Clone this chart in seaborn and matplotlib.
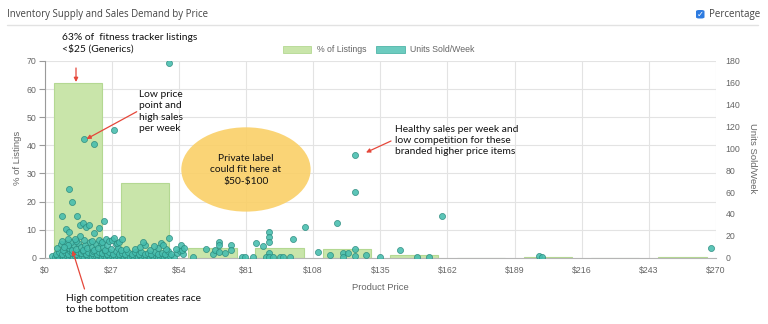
import matplotlib
matplotlib.use("Agg")
import matplotlib.pyplot as plt
from matplotlib.patches import Ellipse, FancyBboxPatch, Rectangle
import pandas as pd
import seaborn as sns

# ---------------- data ----------------
bin_centers = [13.5, 40.5, 67.5, 94.5, 121.5, 148.5, 175.5, 202.5, 229.5, 256.5]
pct_listings = [62.3, 26.5, 3.6, 3.3, 3.0, 1.0, 0.0, 0.4, 0.0, 0.2]

x_ticks = [0, 27, 54, 81, 108, 135, 162, 189, 216, 243, 270]
x_tick_labels = ["$0", "$27", "$54", "$81", "$108", "$135", "$162", "$189", "$216", "$243", "$270"]
left_ticks = [0, 10, 20, 30, 40, 50, 60, 70]
right_ticks = [0, 20, 40, 60, 80, 100, 120, 140, 160, 180]

# (price, units sold / week)
pts_high = [(50.2, 178.4), (27.9, 116.7), (15.9, 108.6), (20.0, 104.3),
            (124.8, 94.0), (125.0, 60.4), (160.0, 38.4), (268.0, 9.2),
            (199.0, 1.6), (200.0, 0.4)]
pts_generic_upper = [(10.0, 63.3), (11.2, 50.8), (6.9, 37.9), (13.2, 38.6), (8.8, 26.3),
                     (14.3, 30.1), (15.3, 31.5), (16.7, 28.4), (17.7, 30.2), (24.0, 33.6),
                     (22.0, 26.8), (20.1, 22.3), (9.9, 23.1), (14.1, 19.9), (9.3, 17.1),
                     (12.1, 16.9), (9.6, 11.6), (8.0, 10.1), (27.1, 15.9), (28.1, 18.3),
                     (31.0, 16.8), (39.7, 14.6), (46.7, 13.9), (47.8, 11.6), (50.2, 18.3),
                     (54.9, 11.6), (56.2, 9.1), (59.9, 0.2)]
pts_mid_price = [(65.1, 7.7), (67.9, 3.1), (68.7, 7.0), (70.0, 14.6), (70.0, 11.6),
                 (70.2, 5.2), (72.7, 4.0), (74.9, 11.6), (75.1, 7.0), (79.4, 0.9),
                 (80.6, 0.9), (83.7, 0.9), (85.0, 13.2), (88.0, 10.7), (90.1, 23.8),
                 (90.1, 19.4), (90.1, 14.6), (90.1, 4.0), (89.1, 0.4), (90.1, 0.4),
                 (91.8, 0.4), (94.7, 0.4), (96.0, 0.4), (98.7, 0.4), (99.8, 17.1),
                 (104.9, 28.4), (109.9, 4.9), (114.8, 2.5), (117.7, 32.0), (119.9, 4.0),
                 (119.9, 0.2), (122.2, 4.0), (125.0, 7.7), (125.0, 1.8), (129.3, 2.7),
                 (134.9, 0.6), (143.1, 6.8), (149.9, 0.6), (154.6, 0.6)]
pts_cluster_row1 = [(3.0, 1.2), (4.2, 0.5), (5.1, 1.8), (6.0, 0.8), (6.8, 2.2), (7.5, 1.0),
                    (8.3, 0.4), (9.0, 1.6), (9.8, 0.9), (10.6, 2.0), (11.3, 0.6), (12.1, 1.3),
                    (12.9, 0.8), (13.6, 1.9), (14.4, 0.5), (15.2, 1.4), (16.0, 1.0), (16.8, 2.1),
                    (17.5, 0.7), (18.3, 1.5), (19.1, 0.4), (19.9, 1.1), (20.7, 1.8), (21.5, 0.6),
                    (22.3, 1.3), (23.1, 0.9), (23.9, 2.0), (24.7, 0.5), (25.5, 1.2), (26.3, 0.8),
                    (27.1, 1.6), (27.9, 0.4), (28.7, 1.0), (29.5, 1.9), (30.3, 0.7), (31.1, 1.3),
                    (31.9, 0.5), (32.7, 1.7), (33.5, 1.0), (34.3, 0.6), (35.1, 1.4), (35.9, 0.9),
                    (36.7, 2.0), (37.5, 0.5), (38.3, 1.1), (39.1, 0.8), (39.9, 1.6), (40.7, 0.4),
                    (41.5, 1.2), (42.3, 0.9), (43.1, 1.8), (43.9, 0.6), (44.7, 1.3), (45.5, 0.5),
                    (46.3, 1.0), (47.1, 1.5), (47.9, 0.7), (48.7, 1.9), (49.5, 0.8), (50.3, 1.2),
                    (52.0, 0.6)]
pts_cluster_row2 = [(4.5, 3.5), (5.8, 4.8), (7.2, 3.0), (8.1, 5.5), (9.4, 3.8), (10.3, 6.0),
                    (11.0, 4.2), (12.5, 3.2), (13.3, 5.6), (14.8, 4.0), (15.6, 6.2), (16.5, 3.4),
                    (17.3, 5.0), (18.9, 3.9), (19.6, 6.4), (21.0, 3.3), (22.0, 5.2), (23.3, 4.1),
                    (24.3, 6.0), (25.0, 3.2), (26.0, 5.5), (27.4, 3.8), (28.6, 5.9), (29.8, 3.1),
                    (31.2, 4.6), (32.5, 3.3), (33.6, 5.0), (35.0, 3.6), (36.4, 4.8), (37.8, 3.2),
                    (39.0, 5.2), (40.4, 3.5), (41.6, 4.4), (43.0, 3.0), (44.6, 5.6), (45.8, 3.4),
                    (47.2, 4.5), (48.6, 3.1), (49.7, 6.3), (51.0, 3.8), (53.2, 4.5), (54.6, 6.5),
                    (55.6, 3.2)]
pts_cluster_row3 = [(5.2, 8.5), (6.5, 12.5), (7.6, 7.5), (8.7, 13.2), (9.9, 9.0), (10.9, 7.2),
                    (11.8, 11.5), (12.7, 8.2), (13.6, 13.5), (14.6, 9.5), (15.4, 7.0), (16.3, 12.0),
                    (17.2, 8.8), (18.1, 14.0), (18.9, 10.0), (19.8, 7.5), (20.7, 12.8), (21.6, 8.6),
                    (22.6, 13.0), (23.4, 9.8), (24.5, 7.4), (25.2, 11.2), (26.6, 8.0), (28.6, 12.6),
                    (29.6, 9.0), (30.6, 7.4), (32.8, 8.4), (36.2, 7.6), (38.6, 9.6), (42.4, 7.2),
                    (45.6, 8.8), (48.8, 7.8), (52.8, 8.0), (55.4, 7.0), (7.0, 15.5), (10.7, 14.8),
                    (12.6, 15.2), (16.0, 16.0), (19.2, 15.0), (21.9, 16.4), (23.2, 14.6), (24.8, 17.5),
                    (25.9, 15.4), (29.2, 13.8), (30.1, 14.6), (40.5, 12.0), (44.0, 11.0)]

# ---------------- styling ----------------
BAR_FACE = "#c9e5aa"
BAR_EDGE = "#b4d892"
DOT_FACE = "#45bdae"
DOT_EDGE = "#2a8a7d"
RED = "#e5473a"
GRID = "#e3e3e3"
TICK_COL = "#666666"
W, H = 768, 324

sns.set_theme(style="white")
plt.rcParams["font.family"] = ["Liberation Sans", "DejaVu Sans"]

fig = plt.figure(figsize=(W / 100, H / 100), dpi=100)
fig.patch.set_facecolor("white")

x0, x1, ytop, ybot = 44.5, 716.0, 61.0, 257.7
ax = fig.add_axes([x0 / W, 1 - ybot / H, (x1 - x0) / W, (ybot - ytop) / H])

bars_df = pd.DataFrame({"price": bin_centers, "pct": pct_listings})
sns.barplot(data=bars_df, x="price", y="pct", native_scale=True, width=0.72,
            color=BAR_FACE, edgecolor=BAR_EDGE, linewidth=0.8, saturation=1,
            errorbar=None, ax=ax, zorder=2)

ax.set_xlim(0, 270)
ax.set_ylim(0, 70)
ax.set_xticks(x_ticks)
ax.set_xticklabels(x_tick_labels)
ax.set_yticks(left_ticks)
ax.set_axisbelow(True)
ax.grid(True, color=GRID, linewidth=0.8)
for s in ["top", "right"]:
    ax.spines[s].set_visible(False)
ax.spines["left"].set_color("#9a9a9a")
ax.spines["bottom"].set_color("#b5b5b5")
ax.spines["left"].set_linewidth(0.8)
ax.spines["bottom"].set_linewidth(0.8)
ax.tick_params(axis="y", length=4, width=0.8, color="#9a9a9a", labelsize=6.3,
               labelcolor=TICK_COL, pad=2)
ax.tick_params(axis="x", length=3, width=0.6, color="#c8c8c8", labelsize=6.3,
               labelcolor=TICK_COL, pad=3)
ax.set_xlabel("")
ax.set_ylabel("")

# ellipse (private label zone)
ax.add_patch(Ellipse((81.0, 31.4), 52.0, 30.0, facecolor="#fad067", edgecolor="none",
                     alpha=0.9, zorder=4))

ax2 = ax.twinx()
allpts = (pts_cluster_row1 + pts_cluster_row2 + pts_cluster_row3 +
          pts_generic_upper + pts_mid_price + pts_high)
dots_df = pd.DataFrame(allpts, columns=["price", "units"])
sns.scatterplot(data=dots_df, x="price", y="units", ax=ax2, s=19, color=DOT_FACE,
                edgecolor=DOT_EDGE, linewidth=0.55, alpha=0.88, legend=False, zorder=3)
ax2.set_ylim(0, 180)
ax2.set_xlim(0, 270)
ax2.set_yticks(right_ticks)
ax2.grid(False)
for s in ["top", "right", "left", "bottom"]:
    ax2.spines[s].set_visible(False)
ax2.tick_params(axis="y", length=0, labelsize=6.3, labelcolor=TICK_COL, pad=7)
ax2.set_xlabel("")
ax2.set_ylabel("")

# axis titles
fig.text(18 / W, 1 - 158 / H, "% of Listings", rotation=90, ha="center", va="center",
         fontsize=6.8, color=TICK_COL)
fig.text(752 / W, 1 - 158 / H, "Units Sold/Week", rotation=270, ha="center", va="center",
         fontsize=6.8, color=TICK_COL)
fig.text(380 / W, 1 - 287 / H, "Product Price", ha="center", va="center",
         fontsize=6.8, color=TICK_COL)

# header
fig.text(7 / W, 1 - 14 / H, "Inventory Supply and Sales Demand by Price", ha="left",
         va="center", fontsize=6.9, color="#444444", family=["Open Sans", "DejaVu Sans"])
fig.add_artist(plt.Line2D([7 / W, 758 / W], [1 - 25 / H, 1 - 25 / H], color="#e2e2e2",
                          linewidth=1.0))
fig.add_artist(FancyBboxPatch((696 / W, 1 - 18.5 / H), 8.5 / W, 8.5 / H,
                              boxstyle="round,pad=0,rounding_size=0.004",
                              facecolor="#2d7be0", edgecolor="none",
                              transform=fig.transFigure))
fig.text(700.2 / W, 1 - 14.2 / H, "\u2713", ha="center", va="center", fontsize=6,
         color="white", fontweight="bold", family=["DejaVu Sans"])
fig.text(709 / W, 1 - 14 / H, "Percentage", ha="left", va="center", fontsize=7.0,
         color="#444444", family=["Open Sans", "DejaVu Sans"])

# legend
fig.add_artist(Rectangle((283 / W, 1 - 53 / H), 28 / W, 7 / H, facecolor=BAR_FACE,
                         edgecolor=BAR_EDGE, linewidth=0.6, transform=fig.transFigure))
fig.text(317 / W, 1 - 49.5 / H, "% of Listings", ha="left", va="center", fontsize=6.3,
         color=TICK_COL)
fig.add_artist(Rectangle((376 / W, 1 - 53 / H), 29 / W, 7 / H, facecolor="#6ccbbf",
                         edgecolor="#4fb5a8", linewidth=0.6, transform=fig.transFigure))
fig.text(410 / W, 1 - 49.5 / H, "Units Sold/Week", ha="left", va="center", fontsize=6.3,
         color=TICK_COL)

# annotations
ANN = ["Lato", "DejaVu Sans"]
AFS = 7.4
LS = 1.32
fig.text(62 / W, 1 - 43.3 / H, "63% of  fitness tracker listings\n<$25 (Generics)", ha="left",
         va="center", fontsize=AFS, color="#111111", family=ANN, linespacing=LS)
fig.text(139 / W, 1 - 111.4 / H, "Low price\npoint and\nhigh sales\nper week", ha="left",
         va="center", fontsize=AFS, color="#111111", family=ANN, linespacing=LS)
fig.text(246 / W, 1 - 170 / H, "Private label\ncould fit here at\n\\$50-\\$100", ha="center",
         va="center", fontsize=AFS, color="#111111", family=ANN, linespacing=LS)
fig.text(395 / W, 1 - 140.5 / H,
         "Healthy sales per week and\nlow competition for these\nbranded higher price items",
         ha="left", va="center", fontsize=AFS, color="#111111", family=ANN, linespacing=LS)
fig.text(66 / W, 1 - 304 / H, "High competition creates race\nto the bottom", ha="left",
         va="center", fontsize=AFS, color="#111111", family=ANN, linespacing=LS)


def fpx(x, y):
    return (x, H - y)


arrow_kw = dict(arrowstyle="-|>", color=RED, lw=0.9, mutation_scale=6, shrinkA=0, shrinkB=0)
for start, end in [((76, 68), (76, 82)), ((136.7, 111.7), (86.5, 139)),
                   ((391, 141), (366, 152.5)), ((84.5, 289), (72.5, 250.5))]:
    ax2.annotate("", xy=fpx(*end), xycoords="figure pixels", xytext=fpx(*start),
                 textcoords="figure pixels", arrowprops=arrow_kw, annotation_clip=False)

fig.savefig("out.png", dpi=100, facecolor="white")
